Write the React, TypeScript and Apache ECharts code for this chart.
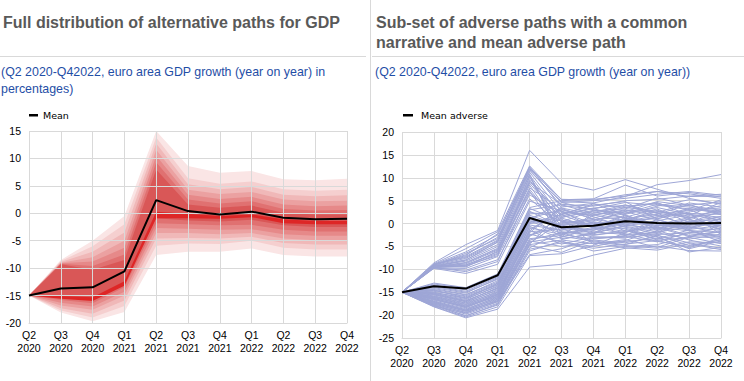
import React, { useEffect, useRef } from "react";
import * as echarts from "echarts";

const categories = ["Q2\n2020", "Q3\n2020", "Q4\n2020", "Q1\n2021", "Q2\n2021", "Q3\n2021", "Q4\n2021", "Q1\n2022", "Q2\n2022", "Q3\n2022", "Q4\n2022"];

// Left panel: fan bands (outer -> inner)
const fanUpper1 = [-15, -8.5, -5.0, -0.5, 15.0, 8.6, 7.4, 7.7, 6.2, 6.0, 6.3];
const fanUpper2 = [-15, -8.7, -6.0, -2.0, 13.8, 6.4, 5.4, 5.8, 4.4, 4.1, 4.3];
const fanUpper3 = [-15, -8.9, -7.0, -3.5, 12.7, 5.3, 4.4, 4.8, 3.4, 3.1, 3.3];
const fanUpper4 = [-15, -9.0, -8.0, -5.0, 11.6, 4.3, 3.5, 3.9, 2.5, 2.2, 2.3];
const fanUpper5 = [-15, -9.1, -8.8, -6.3, 10.5, 3.4, 2.6, 3.0, 1.6, 1.3, 1.4];
const fanUpper6 = [-15, -9.2, -9.6, -7.5, 9.3, 2.5, 1.8, 2.2, 0.8, 0.5, 0.6];
const fanUpper7 = [-15, -9.3, -10.3, -8.5, 8.0, 1.6, 1.0, 1.4, 0.1, -0.2, -0.2];
const fanLower7 = [-15, -15.2, -15.6, -12.5, -0.9, -1.3, -1.5, -1.2, -2.2, -2.5, -2.5];
const fanLower6 = [-15, -15.8, -16.4, -13.5, -1.8, -2.0, -2.2, -2.1, -3.0, -3.3, -3.3];
const fanLower5 = [-15, -16.3, -17.0, -14.3, -2.7, -2.8, -3.0, -2.9, -3.8, -4.1, -4.1];
const fanLower4 = [-15, -16.8, -17.6, -15.0, -3.6, -3.6, -3.8, -3.6, -4.6, -4.9, -4.9];
const fanLower3 = [-15, -17.3, -18.3, -15.9, -4.6, -4.5, -4.6, -4.3, -5.4, -5.7, -5.7];
const fanLower2 = [-15, -17.7, -19.0, -16.9, -5.9, -5.5, -5.6, -5.0, -6.3, -6.6, -6.6];
const fanLower1 = [-15, -18.1, -19.7, -18.0, -7.6, -7.0, -7.0, -6.4, -7.6, -7.9, -7.9];
const coreUpper = [-15, -15.1, -15.3, -12.4, 0.3, -0.1, -0.5, -0.2, -1.1, -1.4, -1.4];
const coreLower = [-15, -15.6, -16.0, -13.2, -0.9, -0.9, -1.0, -0.7, -1.8, -2.0, -2.0];
const meanPath = [-15, -13.7, -13.5, -10.6, 2.4, 0.4, -0.2, 0.3, -0.8, -1.1, -1.0];

// Right panel: adverse paths
const upperClusterPaths = [
  [-15, -8.6, -4.6, -1.5, 16.0, 8.8, 7.3, 9.6, 7.5, 5.5, 4.2],
  [-15, -8.8, -5.5, -1.8, 12.6, 5.2, 5.4, 8.4, 6.0, 6.8, 5.8],
  [-15, -8.9, -6.2, -2.5, 12.3, 4.8, 4.5, 5.9, 8.5, 9.4, 10.7],
  [-15, -9.0, -6.8, -3.0, 11.8, 3.9, 3.2, 4.6, 4.0, 3.2, 2.5],
  [-15, -9.1, -7.2, -3.6, 11.2, 2.5, 1.8, 3.0, 2.4, 4.5, 3.6],
  [-15, -9.2, -7.6, -4.1, 10.6, 1.4, 2.6, 1.2, -0.5, 1.0, -1.2],
  [-15, -9.3, -7.9, -4.6, 10.1, 0.2, 0.8, 2.2, 3.5, 2.0, 1.4],
  [-15, -9.3, -8.2, -5.0, 9.6, -0.8, -1.5, 0.4, 1.8, -0.4, 0.5],
  [-15, -9.4, -8.5, -5.4, 9.0, 4.2, 3.8, 5.0, 5.3, 6.0, 6.4],
  [-15, -9.5, -8.8, -5.8, 8.4, -1.9, -2.6, -1.5, -3.4, -2.2, -3.0],
  [-15, -9.6, -9.1, -6.2, 7.8, 3.1, 1.0, -0.3, 1.5, 3.3, 2.2],
  [-15, -9.6, -9.4, -6.7, 7.1, -2.8, -3.8, -4.6, -2.5, -4.8, -3.6],
  [-15, -9.7, -9.8, -7.2, 6.3, 1.9, 4.3, 3.5, 4.6, 1.8, 4.6],
  [-15, -9.7, -10.2, -7.9, 5.4, -0.3, 0.1, -2.6, 0.3, -1.5, -2.0],
  [-15, -9.8, -10.9, -8.9, 4.9, 2.8, -1.0, 1.7, -1.3, 0.4, 0.9],
  [-15, -9.0, -7.0, -2.2, 12.0, 5.3, 5.1, 6.3, 7.0, 5.9, 6.0],
  [-15, -9.4, -8.0, -4.0, 10.8, -3.5, -2.0, 0.8, 2.9, 1.2, 3.0],
  [-15, -9.2, -9.5, -6.0, 8.8, 1.0, -4.5, -3.5, -5.2, -3.0, -4.4],
  [-15, -9.1, -6.5, -3.3, 11.5, 4.6, 5.0, 5.5, 6.4, 7.0, 6.2],
  [-15, -9.5, -8.6, -5.6, 9.3, 2.0, 3.4, 4.0, 2.2, 2.8, 5.2],
  [-15, -9.3, -9.0, -6.5, 7.5, -1.2, 0.4, -0.6, -1.8, 0.2, -0.3],
  [-15, -9.6, -10.5, -8.3, 6.8, 0.6, -2.4, -1.9, 0.9, -1.0, 1.2],
  [-15, -8.9, -7.4, -3.8, 12.4, 3.4, 2.0, 2.6, 4.8, 3.9, 2.9],
  [-15, -9.4, -9.2, -7.0, 10.3, -2.4, -0.8, 1.9, -0.9, -2.8, -1.8],
];
const lowerClusterPaths = [
  [-15, -13.0, -14.0, -11.0, 3.5, 5.0, 5.3, 6.0, 7.0, 6.5, 5.5],
  [-15, -13.4, -14.5, -11.6, 3.0, 4.1, 2.2, 3.8, 4.4, 2.9, 3.4],
  [-15, -13.8, -15.0, -12.2, 2.4, 1.6, 3.3, 1.1, 2.0, 4.2, 1.9],
  [-15, -14.2, -15.5, -12.8, 1.8, -0.5, 0.6, 2.6, 0.8, -1.0, 1.1],
  [-15, -14.6, -16.0, -13.3, 1.2, 3.0, 1.5, -0.8, -2.2, 0.6, -0.6],
  [-15, -15.0, -16.4, -13.8, 0.6, -2.2, -1.2, 0.2, 1.4, 2.5, 3.9],
  [-15, -15.3, -16.8, -14.2, 0.0, 0.8, -0.4, -1.8, -0.6, -2.6, -1.7],
  [-15, -15.6, -17.1, -14.6, -0.6, -3.3, -2.3, 1.4, 3.2, 0.2, 2.7],
  [-15, -15.9, -17.4, -15.0, -1.2, 2.1, 4.0, 4.8, 1.0, 3.1, 0.3],
  [-15, -16.2, -17.7, -15.3, -1.8, -1.2, -3.0, -2.8, -4.0, -1.9, -2.6],
  [-15, -16.4, -18.0, -15.6, -2.3, -4.0, -5.0, -3.7, -1.5, -3.6, -4.9],
  [-15, -16.7, -18.3, -15.9, -2.8, 1.2, -0.9, -1.0, -3.0, -5.5, -3.8],
  [-15, -16.9, -18.6, -16.2, -3.3, -2.6, 1.9, 0.6, 2.6, 1.5, -0.9],
  [-15, -17.1, -18.9, -16.5, -3.8, -5.0, -4.2, -5.3, -5.8, -4.4, -5.7],
  [-15, -17.3, -19.2, -16.8, -4.3, 0.4, 2.8, 3.2, 5.6, 4.0, 4.8],
  [-15, -17.5, -19.5, -17.1, -4.8, -6.3, -3.6, -4.2, -2.8, -6.2, -5.2],
  [-15, -17.7, -19.8, -17.4, -5.3, -1.8, -2.2, -0.4, -1.0, 0.9, -1.4],
  [-15, -17.9, -20.1, -17.8, -6.0, -3.8, -6.0, -5.0, -4.6, -2.8, -3.2],
  [-15, -18.1, -20.4, -18.2, -7.0, -6.6, -4.8, -2.0, 0.4, -1.2, 0.6],
  [-15, -18.2, -20.6, -18.7, -9.5, -8.9, -6.9, -5.4, -4.9, -5.9, -6.0],
  [-15, -14.0, -15.2, -12.0, 2.7, -0.8, -1.8, -2.4, -1.9, -0.7, -2.1],
  [-15, -14.8, -15.8, -13.0, 0.9, 4.6, 3.0, 2.0, 3.8, 5.2, 4.4],
  [-15, -15.5, -17.0, -14.0, -0.3, -1.5, 0.3, -1.2, -3.6, -3.1, -0.2],
  [-15, -16.0, -17.6, -14.8, -1.5, -4.5, -2.9, -3.2, -0.8, -1.6, -2.9],
  [-15, -16.6, -18.1, -15.4, -2.5, 0.0, 1.2, 2.9, 1.8, 2.2, 2.0],
  [-15, -17.0, -18.8, -16.0, -3.6, -2.0, -4.0, -4.8, -5.4, -4.0, -4.2],
  [-15, -17.6, -19.4, -16.6, -4.5, 2.4, 0.0, -0.1, -1.4, -0.3, 1.6],
  [-15, -15.2, -16.6, -13.6, 1.5, -2.9, 2.4, 4.1, 2.3, -0.8, -1.5],
  [-15, -16.3, -18.2, -15.8, -2.0, 3.6, 4.4, 1.8, -0.2, 1.3, 3.1],
  [-15, -17.2, -19.0, -16.3, -4.0, -3.0, -1.0, -2.2, -3.9, -5.0, -3.5],
  [-15, -18.0, -19.6, -17.0, -6.8, -5.5, -3.2, -3.0, -2.4, -2.0, -1.0],
  [-15, -13.2, -14.2, -11.3, 3.3, 0.5, -0.2, 0.9, -0.1, -1.3, -0.4],
  [-15, -13.6, -14.8, -11.8, 2.1, 2.6, 1.8, 3.5, 2.7, 1.1, 2.4],
  [-15, -14.4, -15.6, -12.5, 1.4, -1.0, -2.0, -0.5, 0.6, 1.9, 0.8],
  [-15, -15.1, -16.2, -13.4, 0.3, 1.3, 2.9, 2.3, 4.2, 3.6, 2.6],
  [-15, -15.8, -17.3, -14.4, -0.9, -2.4, -3.4, -2.6, -2.0, -3.4, -2.3],
  [-15, -16.5, -18.4, -15.5, -2.6, -0.6, -1.4, 0.1, -0.4, -0.6, -0.1],
  [-15, -17.4, -19.1, -16.9, -4.6, -3.6, -4.4, -3.9, -3.3, -1.4, -4.0],
  [-15, -16.1, -17.9, -15.1, -1.6, 3.3, 1.0, -1.6, -2.6, -4.2, -5.4],
  [-15, -14.5, -16.3, -13.1, 0.8, -0.2, 0.9, 1.4, -1.1, 0.5, 1.5],
  [-15, -17.8, -20.2, -17.6, -5.6, -4.2, -5.4, -4.5, -3.7, -5.3, -3.1],
  [-15, -15.4, -16.9, -14.1, 0.2, 1.9, -0.6, 0.5, 1.1, 2.3, -2.4],
];
const meanAdversePath = [-15, -13.7, -14.2, -11.3, 1.2, -0.8, -0.5, 0.5, 0.1, 0.0, 0.1];

const leftTicks = { min: -20, max: 15, interval: 5 };
const rightTicks = { min: -25, max: 20, interval: 5 };

const GRID = "#d9d9d9";
const FONT = "Liberation Sans, Arial, sans-serif";

export default function App() {
  const ref = useRef<HTMLDivElement>(null);
  useEffect(() => {
    if (!ref.current) return;
    const chart = echarts.init(ref.current, null, { renderer: "svg" });

    const bands = [
      { lo: fanLower1, hi: fanUpper1, color: "#fae5e5" },
      { lo: fanLower2, hi: fanUpper2, color: "#f5cfcf" },
      { lo: fanLower3, hi: fanUpper3, color: "#f0b8b8" },
      { lo: fanLower4, hi: fanUpper4, color: "#eba1a1" },
      { lo: fanLower5, hi: fanUpper5, color: "#e68989" },
      { lo: fanLower6, hi: fanUpper6, color: "#e07171" },
      { lo: fanLower7, hi: fanUpper7, color: "#d95757" },
      { lo: coreLower, hi: coreUpper, color: "#de2626" },
    ];
    const series: any[] = [];
    bands.forEach((b, i) => {
      series.push({
        type: "line", xAxisIndex: 0, yAxisIndex: 0, stack: "band" + i, stackStrategy: "all",
        data: b.lo, symbol: "none", silent: true, lineStyle: { width: 0, opacity: 0 }, z: 2,
      });
      series.push({
        type: "line", xAxisIndex: 0, yAxisIndex: 0, stack: "band" + i, stackStrategy: "all",
        data: b.hi.map((v, k) => +(v - b.lo[k]).toFixed(3)), symbol: "none", silent: true,
        lineStyle: { width: 0, opacity: 0 }, areaStyle: { color: b.color, opacity: 1 }, z: 2,
      });
    });
    series.push({
      type: "line", xAxisIndex: 0, yAxisIndex: 0, data: meanPath, symbol: "none",
      lineStyle: { color: "#000", width: 2 }, z: 6, silent: true,
    });
    [...upperClusterPaths, ...lowerClusterPaths].forEach((p) => {
      series.push({
        type: "line", xAxisIndex: 1, yAxisIndex: 1, data: p, symbol: "none", silent: true,
        lineStyle: { color: "#9ea6d6", width: 1 }, z: 2,
      });
    });
    series.push({
      type: "line", xAxisIndex: 1, yAxisIndex: 1, data: meanAdversePath, symbol: "none",
      lineStyle: { color: "#000", width: 2 }, z: 6, silent: true,
    });

    const xAxisBase = (grid: number, z: number) => ({
      type: "category", gridIndex: grid, data: categories, boundaryGap: false, z,
      axisLine: { onZero: false, lineStyle: { color: GRID } },
      axisTick: { show: false },
      splitLine: { show: true, lineStyle: { color: GRID, width: 1 } },
      axisLabel: { interval: 0, color: "#000", fontSize: 10.5, lineHeight: 13.5, margin: 5, fontFamily: FONT },
    });
    const yAxisBase = (grid: number, t: any, z: number) => ({
      type: "value", gridIndex: grid, min: t.min, max: t.max, interval: t.interval, z,
      axisLine: { show: false }, axisTick: { show: false },
      splitLine: { lineStyle: { color: GRID, width: 1 } },
      axisLabel: { color: "#000", fontSize: 10.5, margin: 8, fontFamily: FONT },
    });

    const titleStyle = { fill: "#595959", font: "bold 16px " + FONT };
    const subStyle = { fill: "#1f4ea6", font: "12.4px " + FONT };
    const legStyle = { fill: "#000", font: "9.5px DejaVu Sans, sans-serif" };

    chart.setOption({
      animation: false,
      grid: [
        { left: 29, top: 131, width: 318, height: 192 },
        { left: 402, top: 132, width: 319, height: 206 },
      ],
      xAxis: [xAxisBase(0, 3), xAxisBase(1, 0)],
      yAxis: [yAxisBase(0, leftTicks, 3), yAxisBase(1, rightTicks, 0)],
      series,
      graphic: [
        { type: "line", shape: { x1: 370.5, y1: 0, x2: 370.5, y2: 381 }, style: { stroke: "#d9d9d9", lineWidth: 1 } },
        { type: "line", shape: { x1: 0, y1: 56.5, x2: 366, y2: 56.5 }, style: { stroke: "#d9d9d9", lineWidth: 1 } },
        { type: "line", shape: { x1: 372, y1: 56.5, x2: 744, y2: 56.5 }, style: { stroke: "#d9d9d9", lineWidth: 1 } },
        { type: "text", x: 3, y: 22, style: { ...titleStyle, text: "Full distribution of alternative paths for GDP", verticalAlign: "middle" } },
        { type: "text", x: 376, y: 22, style: { ...titleStyle, text: "Sub-set of adverse paths with a common", verticalAlign: "middle" } },
        { type: "text", x: 376, y: 42, style: { ...titleStyle, text: "narrative and mean adverse path", verticalAlign: "middle" } },
        { type: "text", x: 1, y: 72, style: { ...subStyle, text: "(Q2 2020-Q42022, euro area GDP growth (year on year) in", verticalAlign: "middle" } },
        { type: "text", x: 1, y: 89, style: { ...subStyle, text: "percentages)", verticalAlign: "middle" } },
        { type: "text", x: 375, y: 72, style: { ...subStyle, text: "(Q2 2020-Q42022, euro area GDP growth (year on year))", verticalAlign: "middle" } },
        { type: "rect", shape: { x: 29, y: 114, width: 9, height: 2.5 }, style: { fill: "#000" } },
        { type: "text", x: 43, y: 115, style: { ...legStyle, text: "Mean", verticalAlign: "middle" } },
        { type: "rect", shape: { x: 403, y: 114, width: 10, height: 2.5 }, style: { fill: "#000" } },
        { type: "text", x: 421, y: 115, style: { ...legStyle, text: "Mean adverse", verticalAlign: "middle" } },
      ],
    });
    return () => chart.dispose();
  }, []);
  return <div ref={ref} style={{ position: "fixed", left: 0, top: 0, width: 744, height: 381, background: "#fff" }} />;
}
